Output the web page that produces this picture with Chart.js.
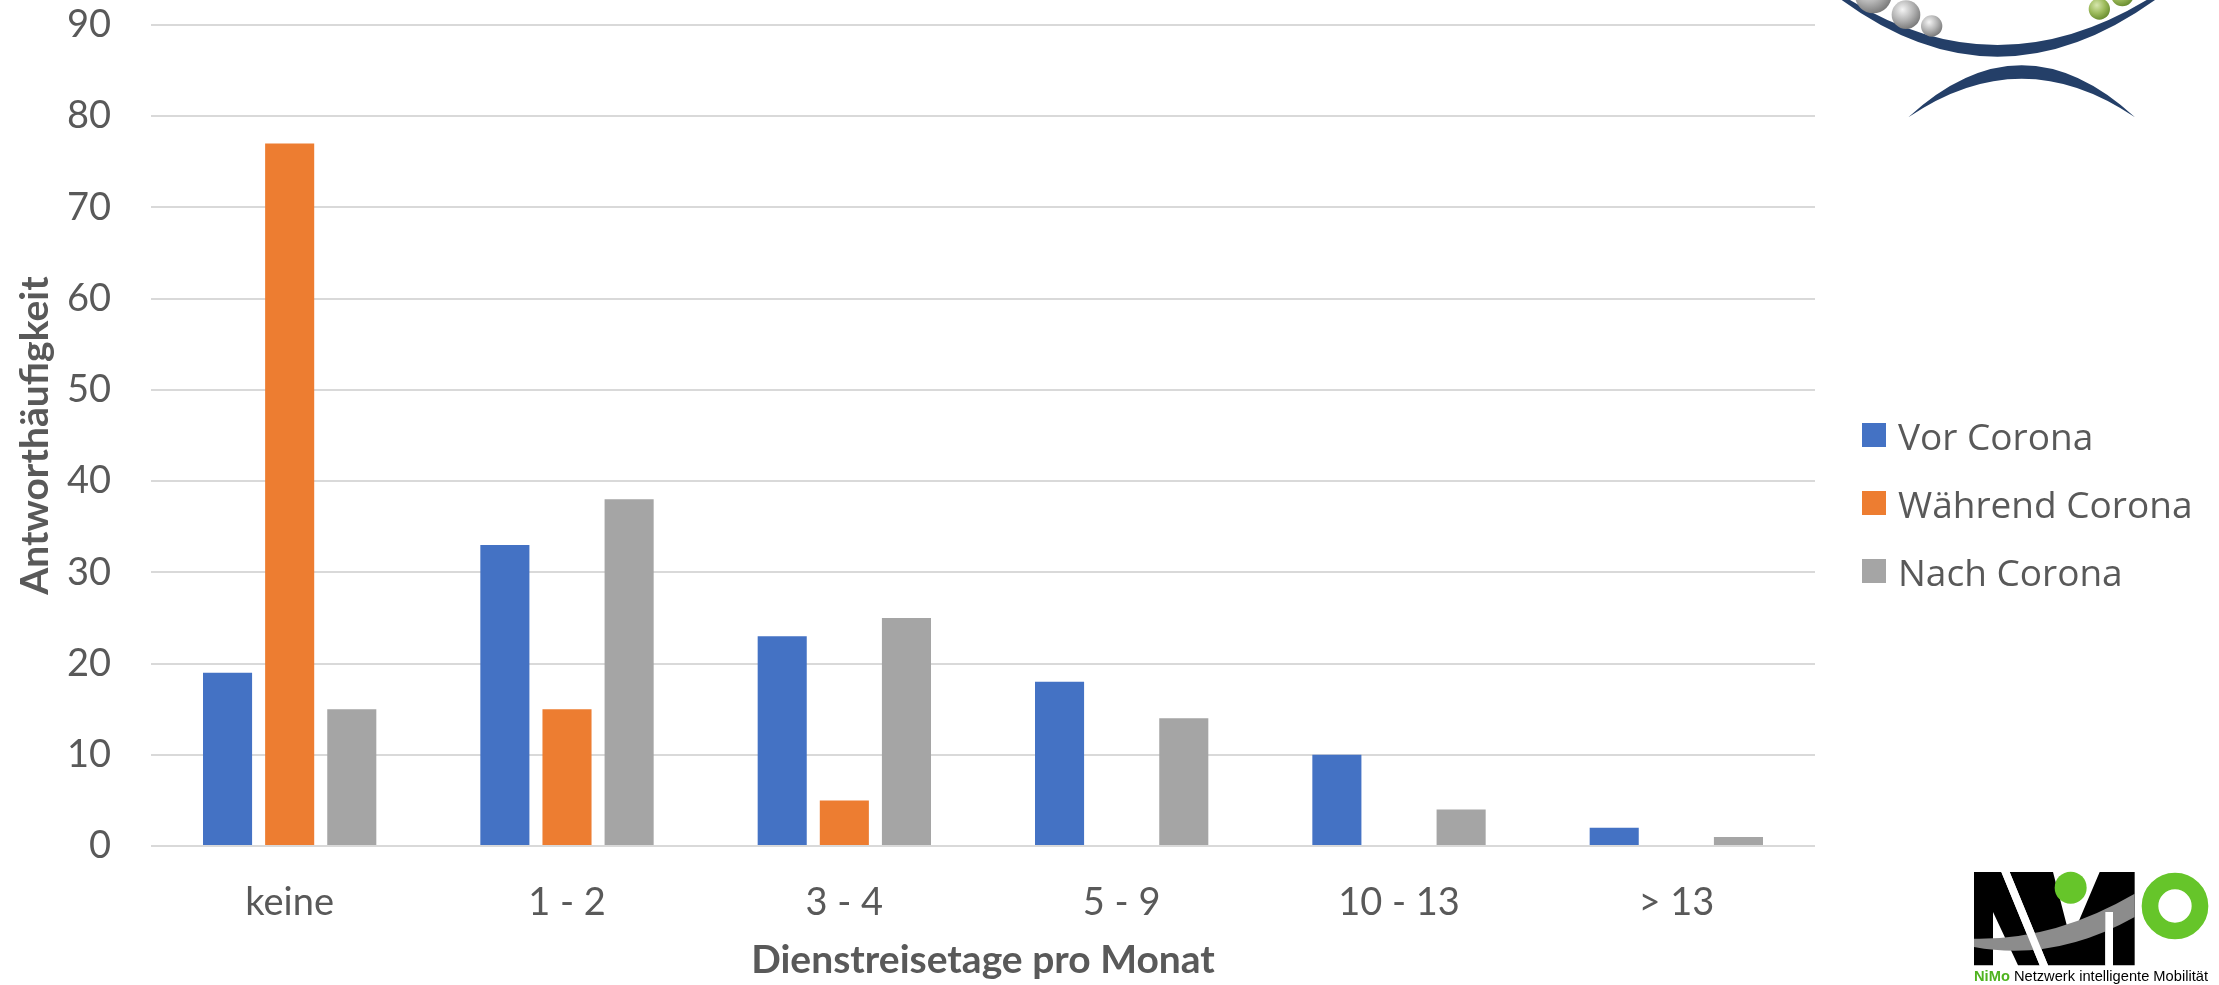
<!DOCTYPE html>
<html>
<head>
<meta charset="utf-8">
<script src="https://cdn.jsdelivr.net/npm/chart.js@4.4.1/dist/chart.umd.min.js"></script>
<style>
    html, body { margin: 0; padding: 0; background: #fff; }
    #wrap { position: relative; width: 2219px; height: 985px; overflow: hidden; }
    #chartBox { position: absolute; left: 0; top: 0; width: 2219px; height: 985px; }
    .legend-item { position: absolute; left: 1862px; height: 50px; display: flex; align-items: center;
        font-family: "Open Sans", sans-serif; font-size: 37px; color: #595959; white-space: nowrap; }
    .legend-item span.box { width: 24px; height: 24px; margin-right: 12px; display: inline-block; }
    svg { position: absolute; }
</style>
</head>
<body>
<div id="wrap">
    <div id="chartBox"><canvas id="barChart"></canvas></div>
    <div id="legend"></div>

    <!-- top right logo -->
    <svg style="left:1780px;top:0" width="439" height="130" viewBox="0 0 1317 390">
        <defs>
            <radialGradient id="greyBall" cx="38%" cy="32%" r="70%">
                <stop offset="0" stop-color="#f4f4f4"/>
                <stop offset="0.55" stop-color="#b4b4b4"/>
                <stop offset="1" stop-color="#7a7a7a"/>
            </radialGradient>
            <radialGradient id="greenBall" cx="38%" cy="32%" r="70%">
                <stop offset="0" stop-color="#d6e6ad"/>
                <stop offset="0.55" stop-color="#9dbb5c"/>
                <stop offset="1" stop-color="#6a8d30"/>
            </radialGradient>
        </defs>
        <path d="M185 0 Q650 340 1125 0 L1100 0 Q650 270 210 0 Z" fill="#243f68"/>
        <path d="M385 352 Q725 40 1065 352 Q725 120 385 352 Z" fill="#243f68"/>
        <circle cx="280" cy="-15" r="55" fill="url(#greyBall)"/>
        <circle cx="378" cy="44" r="43" fill="url(#greyBall)"/>
        <circle cx="455" cy="78" r="32" fill="url(#greyBall)"/>
        <circle cx="958" cy="27" r="32" fill="url(#greenBall)"/>
        <circle cx="1027" cy="-15" r="34" fill="url(#greenBall)"/>
    </svg>

    <!-- bottom right logo -->
    <svg style="left:1968px;top:862px" width="251" height="123" viewBox="0 0 753 369">
        <polygon points="18,30 100,30 215,310 150,310 75,150 75,310 18,310" fill="#000"/>
        <polygon points="125,30 255,30 308,235 395,30 500,30 500,310 435,310 435,150 412,150 412,310 240,310" fill="#000"/>
        <path d="M18 230 Q260 235 500 95 L500 165 Q260 300 18 255 Z" fill="#8c8c8c"/>
        <polygon points="100,30 125,30 240,310 215,310" fill="#fff"/>
        <rect x="412" y="150" width="23" height="160" fill="#fff"/>
        <circle cx="308" cy="77" r="48" fill="#66c52a"/>
        <circle cx="621" cy="132" r="75" fill="none" stroke="#66c52a" stroke-width="50"/>
        <text x="18" y="356" textLength="702" lengthAdjust="spacingAndGlyphs"
              font-family="Liberation Sans Narrow, Liberation Sans, sans-serif" font-size="45" fill="#000"><tspan fill="#4fb31f" font-weight="bold">NiMo</tspan> Netzwerk intelligente Mobilität</text>
    </svg>
</div>

<script>
const categories = ['keine', '1 - 2', '3 - 4', '5 - 9', '10 - 13', '> 13'];
const vorCorona = [19, 33, 23, 18, 10, 2];
const waehrendCorona = [77, 15, 5, 0, 0, 0];
const nachCorona = [15, 38, 25, 14, 4, 1];
const seriesNames = ['Vor Corona', 'Während Corona', 'Nach Corona'];
const seriesColors = ['#4472C4', '#ED7D31', '#A5A5A5'];
const yMin = 0;
const yMax = 90;
const yStep = 10;

const textColor = '#595959';
const seriesValues = [vorCorona, waehrendCorona, nachCorona];

// legend next to the plot
const legendTops = [410, 478, 546];
const legendEl = document.getElementById('legend');
seriesNames.forEach((name, i) => {
    const item = document.createElement('div');
    item.className = 'legend-item';
    item.style.top = legendTops[i] + 'px';
    item.innerHTML = '<span class="box" style="background:' + seriesColors[i] + '"></span>' + name;
    legendEl.appendChild(item);
});

const ctx = document.getElementById('barChart').getContext('2d');

new Chart(ctx, {
    type: 'bar',
    data: {
        labels: categories,
        datasets: seriesNames.map((name, i) => ({
            label: name,
            data: seriesValues[i],
            backgroundColor: seriesColors[i],
            borderWidth: 0,
            categoryPercentage: 0.672,
            barPercentage: 0.79
        }))
    },
    options: {
        responsive: true,
        maintainAspectRatio: false,
        animation: false,
        layout: {
            padding: { top: 25, right: 404, left: 0, bottom: 0 }
        },
        plugins: {
            legend: { display: false },
            tooltip: { enabled: false }
        },
        scales: {
            x: {
                // invisible tick marks push the labels down without adding scale padding
                grid: { display: false, drawTicks: true, tickLength: 28, tickColor: 'rgba(0,0,0,0)' },
                border: { display: false },
                ticks: {
                    color: textColor,
                    padding: 6,
                    font: { family: 'Lato', size: 38 }
                },
                title: {
                    display: true,
                    text: 'Dienstreisetage pro Monat',
                    color: textColor,
                    padding: { top: 0, bottom: 1 },
                    font: { family: 'Lato', size: 39, weight: 'bold' }
                },
                afterFit: scale => { scale.height = 139; }
            },
            y: {
                min: yMin,
                max: yMax,
                grid: { color: '#d9d9d9', lineWidth: 2, drawTicks: true, tickLength: 38, tickColor: 'rgba(0,0,0,0)' },
                border: { display: false },
                ticks: {
                    stepSize: yStep,
                    color: textColor,
                    padding: 2,
                    font: { family: 'Lato', size: 38 }
                },
                title: {
                    display: true,
                    text: 'Antworthäufigkeit',
                    color: textColor,
                    padding: { top: 12, bottom: 0 },
                    font: { family: 'Lato', size: 39, weight: 'bold' }
                },
                afterFit: scale => { scale.width = 151; }
            }
        }
    }
});
</script>
</body>
</html>
